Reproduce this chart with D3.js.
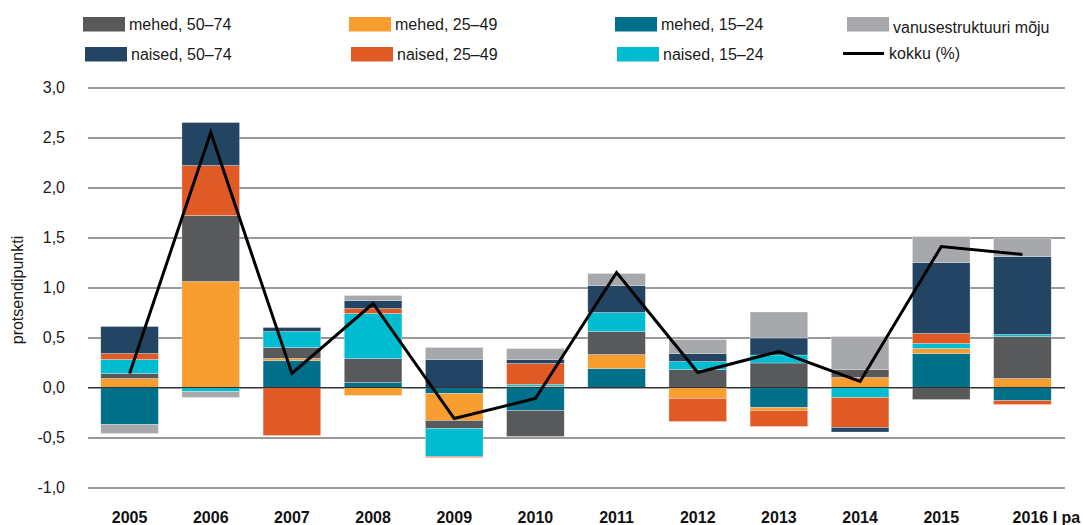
<!DOCTYPE html>
<html>
<head>
<meta charset="utf-8">
<script src="https://cdn.jsdelivr.net/npm/d3@7"></script>
<style>
  body { margin: 0; background: #fff; }
  svg { font-family: "Liberation Sans", Helvetica, Arial, sans-serif; }
</style>
</head>
<body>
<div id="chart"></div>
<script>
// Years on the x axis
const years = ["2005", "2006", "2007", "2008", "2009", "2010", "2011", "2012", "2013", "2014", "2015", "2016 I pa"];

// Contributions (percentage points) per group
const mehed1524 = [-0.37, 0, 0.27, 0.05, -0.06, -0.23, 0.19, 0, -0.2, 0, 0.34, -0.13];
const mehed2549 = [0.09, 1.06, 0.02, -0.08, -0.27, 0.01, 0.14, -0.11, -0.03, 0.1, 0.05, 0.09];
const mehed5074 = [0.05, 0.66, 0.11, 0.24, -0.08, -0.26, 0.23, 0.18, 0.245, 0.08, -0.12, 0.42];
const naised1524 = [0.14, -0.04, 0.16, 0.45, -0.28, 0.02, 0.19, 0.08, 0.08, -0.1, 0.05, 0.02];
const naised2549 = [0.06, 0.5, -0.48, 0.05, -0.01, 0.21, 0, -0.23, -0.16, -0.3, 0.1, -0.04];
const naised5074 = [0.27, 0.43, 0.04, 0.08, 0.28, 0.04, 0.27, 0.08, 0.17, -0.045, 0.71, 0.78];
const vanusMoju = [-0.09, -0.06, 0, 0.05, 0.12, 0.11, 0.12, 0.14, 0.26, 0.33, 0.26, 0.18];

// Total change (%)
const kokku = [0.14, 2.55, 0.14, 0.84, -0.31, -0.11, 1.15, 0.15, 0.36, 0.06, 1.41, 1.33];

const yTicks = [-1, -0.5, 0, 0.5, 1, 1.5, 2, 2.5, 3];

// Series in stacking order (bottom up)
const series = [
  { key: "m1524", name: "mehed, 15–24", color: "#00708a", values: mehed1524 },
  { key: "m2549", name: "mehed, 25–49", color: "#f89d2f", values: mehed2549 },
  { key: "m5074", name: "mehed, 50–74", color: "#58595b", values: mehed5074 },
  { key: "n1524", name: "naised, 15–24", color: "#00bcd0", values: naised1524 },
  { key: "n2549", name: "naised, 25–49", color: "#e05a26", values: naised2549 },
  { key: "n5074", name: "naised, 50–74", color: "#234563", values: naised5074 },
  { key: "vanus", name: "vanusestruktuuri mõju", color: "#a7a8ab", values: vanusMoju }
];

const width = 1083;
const height = 525;

const svg = d3
  .select("#chart")
  .append("svg")
  .attr("width", width)
  .attr("height", height);

const x = d3
  .scaleBand()
  .domain(years)
  .range([89, 1063])
  .paddingInner(0.29)
  .paddingOuter(0.145);

const y = d3.scaleLinear().domain([-1, 3]).range([487.5, 87.5]);

const gridLeft = 88;
const gridRight = 1065;

// Y axis with gridlines
const fmt = (v) => d3.format(".1f")(v).replace(".", ",").replace("−", "-");
const yAxis = svg
  .append("g")
  .attr("transform", `translate(${gridLeft},0)`)
  .call(
    d3
      .axisLeft(y)
      .tickValues(yTicks)
      .tickSize(-(gridRight - gridLeft))
      .tickPadding(23)
      .tickFormat(fmt)
  );
yAxis.select(".domain").remove();
yAxis.selectAll("line").attr("stroke", "#333").attr("stroke-width", 1);
yAxis
  .selectAll("text")
  .attr("fill", "#1a1a1a")
  .style("font-size", "16px")
  .style("font-family", '"Liberation Sans", Helvetica, Arial, sans-serif');

// Stack the data
const table = years.map((yr, i) => {
  const row = { year: yr };
  series.forEach((s) => (row[s.key] = s.values[i]));
  return row;
});
const stacked = d3
  .stack()
  .keys(series.map((s) => s.key))
  .order(d3.stackOrderNone)
  .offset(d3.stackOffsetDiverging)(table);

svg
  .append("g")
  .selectAll("g")
  .data(stacked)
  .join("g")
  .attr("fill", (d, i) => series[i].color)
  .selectAll("rect")
  .data((d) => d)
  .join("rect")
  .attr("x", (d) => x(d.data.year))
  .attr("width", x.bandwidth())
  .attr("y", (d) => y(Math.max(d[0], d[1])))
  .attr("height", (d) => Math.abs(y(d[0]) - y(d[1])))
  .attr("stroke", "rgba(255,255,255,0.45)")
  .attr("stroke-width", 0.6);

// Zero line on top of bars
svg
  .append("line")
  .attr("x1", gridLeft)
  .attr("x2", gridRight)
  .attr("y1", y(0))
  .attr("y2", y(0))
  .attr("stroke", "#333")
  .attr("stroke-width", 1);

// Total line
const line = d3
  .line()
  .x((d, i) => x(years[i]) + x.bandwidth() / 2)
  .y((d) => y(d));
svg
  .append("path")
  .datum(kokku)
  .attr("fill", "none")
  .attr("stroke", "#000")
  .attr("stroke-width", 3)
  .attr("d", line);

// X labels
svg
  .append("g")
  .selectAll("text")
  .data(years)
  .join("text")
  .attr("x", (d) => x(d) + x.bandwidth() / 2)
  .attr("dx", (d, i) => (i === years.length - 1 ? 24 : 0))
  .attr("y", 523)
  .attr("text-anchor", "middle")
  .attr("font-weight", "bold")
  .style("font-size", "16px")
  .attr("fill", "#111")
  .text((d) => d);

// Y title
svg
  .append("text")
  .attr("transform", "translate(23,290) rotate(-90)")
  .attr("text-anchor", "middle")
  .style("font-size", "16px")
  .attr("fill", "#1a1a1a")
  .text("protsendipunkti");

// Legend
const legendItems = [
  { key: "m5074", col: 0, row: 0 },
  { key: "m2549", col: 1, row: 0 },
  { key: "m1524", col: 2, row: 0 },
  { key: "vanus", col: 3, row: 0 },
  { key: "n5074", col: 0, row: 1 },
  { key: "n2549", col: 1, row: 1 },
  { key: "n1524", col: 2, row: 1 }
];
const colX = [83, 349, 615, 847];
const rowY = [17, 47];
const legend = svg.append("g");
legendItems.forEach((it) => {
  const s = series.find((d) => d.key === it.key);
  const lx = colX[it.col] + it.row * 2;
  const ly = rowY[it.row];
  legend
    .append("rect")
    .attr("x", lx)
    .attr("y", ly)
    .attr("width", 42)
    .attr("height", 14.5)
    .attr("fill", s.color);
  legend
    .append("text")
    .attr("x", lx + 46)
    .attr("y", ly + 7.5 + (it.key === "vanus" ? 2.5 : 0))
    .attr("dy", "0.35em")
    .style("font-size", "16px")
    .attr("fill", "#1a1a1a")
    .text(s.name);
});
legend
  .append("line")
  .attr("x1", 843)
  .attr("x2", 884)
  .attr("y1", 53.5)
  .attr("y2", 53.5)
  .attr("stroke", "#000")
  .attr("stroke-width", 3);
legend
  .append("text")
  .attr("x", 889)
  .attr("y", 53)
  .attr("dy", "0.35em")
  .style("font-size", "16px")
  .attr("fill", "#1a1a1a")
  .text("kokku (%)");
</script>
</body>
</html>
